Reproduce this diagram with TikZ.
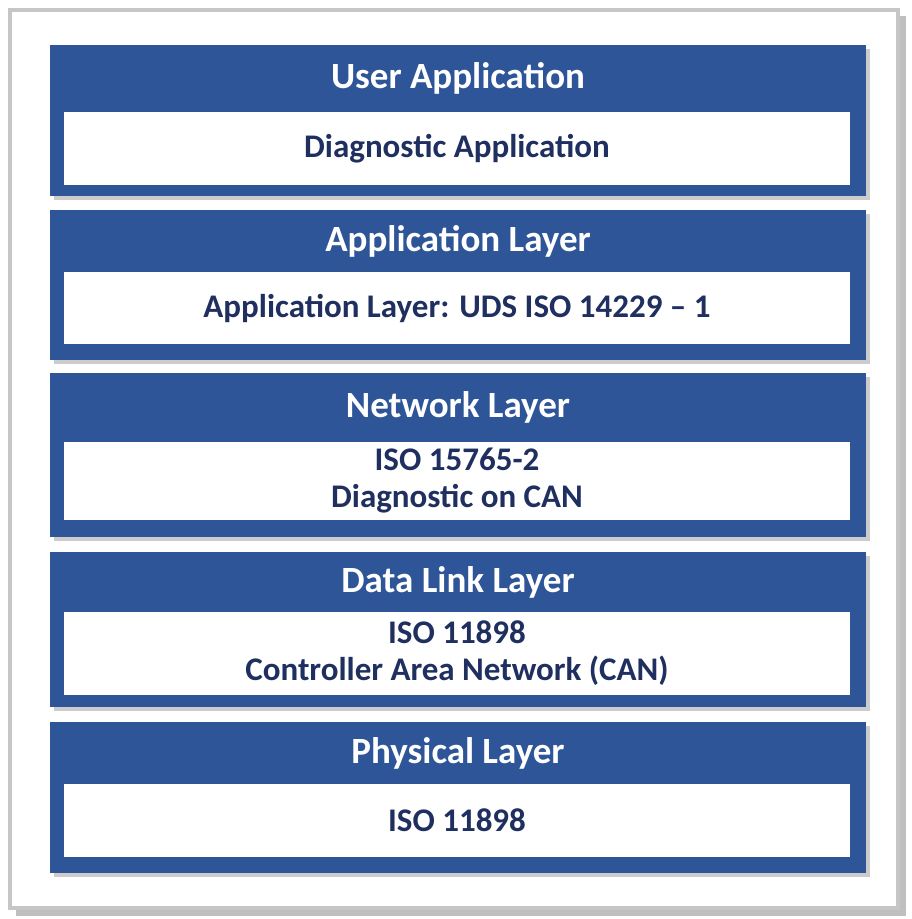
\documentclass[tikz,border=0pt]{standalone}
\usepackage{fontspec}
\setmainfont{Carlito}
\definecolor{lb}{HTML}{2E5597}
\definecolor{tx}{HTML}{1F2F5F}
\tikzset{
 outer/.style={fill=lb,draw=none},
 inner/.style={fill=white,draw=none},
 ttl/.style={text=white,font=\bfseries\fontsize{37}{44}\selectfont},
 itx/.style={text=tx,font=\bfseries\fontsize{33}{37}\selectfont,align=center},
}
\begin{document}
\begin{tikzpicture}[x=1pt,y=-1pt]
\useasboundingbox (0,0) rectangle (912,919);
\fill[gray!50] (16,16) rectangle (906,916);
\fill[white] (8,8) rectangle (900,910);
\draw[line width=4pt,gray!45] (10,10) rectangle (898,908);
\foreach \n/\a/\b/\c/\d/\t/\i in {
 1/45/196/112/185/{User Application}/{Diagnostic Application},
 2/210/360/272/344/{Application Layer}/{Application Layer: UDS ISO 14229 – 1},
 3/373/537/442/520/{Network Layer}/{ISO 15765-2\\Diagnostic on CAN},
 4/552/707/612/695/{Data Link Layer}/{ISO 11898\\Controller Area Network (CAN)},
 5/722/873/784/857/{Physical Layer}/{ISO 11898}}{
 \fill[gray!40] (54,\a+4) rectangle (870,\b+4);
 \fill[outer] (50,\a) rectangle (866,\b);
 \fill[inner] (64,\c) rectangle (850,\d);
 \node[ttl] (t\n) at (458,{(\a+\c)/2}) {\t};
 \node[itx] (i\n) at (457,{(\c+\d)/2}) {\i};
}
\end{tikzpicture}
\end{document}
